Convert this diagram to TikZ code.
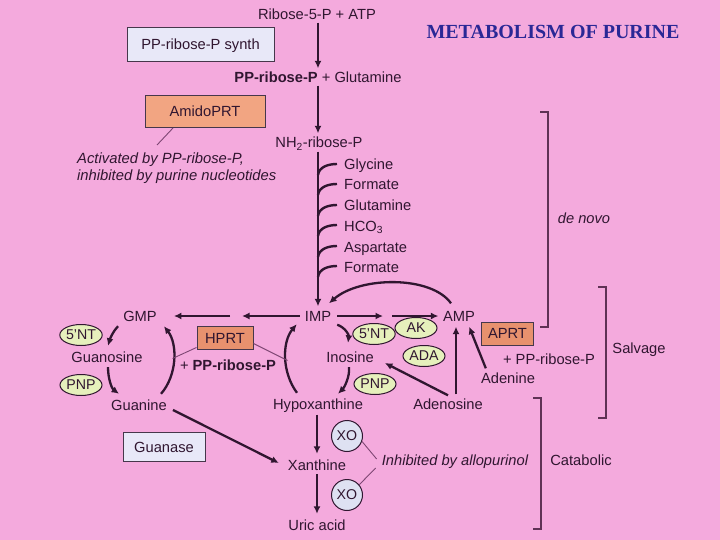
\documentclass[tikz,border=0pt]{standalone}
\usepackage{fontspec}
\setmainfont{Liberation Sans}
\newfontfamily\titlefont{Liberation Serif}
\usetikzlibrary{arrows.meta,shapes.geometric,calc}
\definecolor{bgpink}{RGB}{244,170,221}
\definecolor{ink}{RGB}{48,22,48}
\definecolor{titleblue}{RGB}{42,40,150}
\definecolor{boxfill}{RGB}{232,232,248}
\definecolor{boxline}{RGB}{70,55,75}
\definecolor{amidofill}{RGB}{242,165,130}
\definecolor{hfill}{RGB}{232,145,110}
\definecolor{ellfill}{RGB}{230,240,188}
\definecolor{xofill}{RGB}{222,225,242}
\definecolor{linkline}{RGB}{125,70,115}
\definecolor{brk}{RGB}{95,50,85}
\newcommand\denovobranch[1]{%
  \draw[branchline] ($(#1.west -| imp)+(0,10)$) .. controls +(1,-8) and +(-9,0) .. ($(#1.west)+(-6,-1)$);}
\begin{document}
\begin{tikzpicture}[x=1pt,y=-1pt,
  lbl/.style={inner sep=1pt, text height=10.5pt, text depth=0.5pt, text=ink, font=\fontsize{14.7}{17}\selectfont},
  itl/.style={lbl, font=\fontsize{14.7}{17}\selectfont\itshape},
  note/.style={inner sep=1pt, text=ink, align=left, font=\fontsize{14.8}{16.5}\selectfont\itshape},
  lbox/.style={lbl, draw=boxline, line width=1pt, inner sep=0pt},
  enz/.style={ellipse, draw=ink, line width=1pt, fill=ellfill, minimum width=42pt, minimum height=21pt, inner sep=0pt, text height=10pt, text depth=0.5pt, text=ink, font=\fontsize{14.2}{16}\selectfont},
  xocirc/.style={circle, draw=ink, line width=1pt, fill=xofill, minimum size=31pt, inner sep=0pt, text height=10pt, text depth=0.5pt, text=ink, font=\fontsize{14.2}{16}\selectfont},
  arr/.style={line width=2.3pt, draw=ink, -{Latex[length=7.5pt,width=7pt]}},
  branchline/.style={line width=2.4pt, draw=ink},
  thinline/.style={line width=0.9pt, draw=linkline},
  brack/.style={line width=1.2pt, draw=brk}]
\fill[bgpink] (0,0) rectangle (720,540);
\useasboundingbox (0,0) rectangle (720,540);

% title
\node[text=titleblue, font=\titlefont\bfseries\fontsize{20}{23}\selectfont, inner sep=0pt] (title) at (553,32) {METABOLISM OF PURINE};

% top of pathway
\node[lbl] (r5p) at (317,15) {Ribose-5-P + ATP};
\node[lbox, fill=boxfill, minimum width=147pt, minimum height=34pt] (synth) at (200.5,45) {PP-ribose-P synth};
\node[lbl] (prpp) at (318,78) {\textbf{PP-ribose-P} + Glutamine};
\node[lbox, fill=amidofill, minimum width=120pt, minimum height=32pt] (amido) at (205,111.5) {AmidoPRT};
\node[lbl] (nh2) at (319,143) {NH\textsubscript{2}-ribose-P};
\node[note, anchor=west] (activ) at (76,168) {Activated by PP-ribose-P,\\inhibited by purine nucleotides};

% de novo additions
\node[lbl, anchor=west] (gly) at (343,165) {Glycine};
\node[lbl, anchor=west] (for1) at (343,185) {Formate};
\node[lbl, anchor=west] (glu) at (343,206) {Glutamine};
\node[lbl, anchor=west] (hco) at (343,226) {HCO\textsubscript{3}};
\node[lbl, anchor=west] (asp) at (343,247) {Aspartate};
\node[lbl, anchor=west] (for2) at (343,267) {Formate};

% nucleotides / bases
\node[lbl] (imp) at (318,316) {IMP};
\node[lbl] (gmp) at (140,316) {GMP};
\node[lbl] (amp) at (459,316) {AMP};
\node[lbl] (inosine) at (350,357) {Inosine};
\node[lbl] (hypox) at (318,404) {Hypoxanthine};
\node[lbl] (adenosine) at (448,404) {Adenosine};
\node[lbl] (adenine) at (508,378) {Adenine};
\node[lbl] (guanosine) at (107,357) {Guanosine};
\node[lbl] (guanine) at (139,405) {Guanine};
\node[lbl] (xanthine) at (317,465) {Xanthine};
\node[lbl] (uric) at (317,525) {Uric acid};

% enzymes
\node[enz] (nt5a) at (81,335) {5'NT};
\node[enz] (pnpa) at (81,385) {PNP};
\node[enz] (nt5b) at (374,334) {5'NT};
\node[enz] (ak) at (416,328) {AK};
\node[enz] (ada) at (424,356) {ADA};
\node[enz] (pnpb) at (375,384) {PNP};
\node[lbox, fill=hfill, minimum width=56pt, minimum height=23pt] (hprt) at (225,338) {HPRT};
\node[lbox, fill=hfill, minimum width=52pt, minimum height=23pt] (aprt) at (507.5,333.5) {APRT};
\node[lbl] (pphp) at (228,365) {+ \textbf{PP-ribose-P}};
\node[lbl] (ppa) at (549,359) {+ PP-ribose-P};
\node[lbox, fill=boxfill, minimum width=82pt, minimum height=29pt] (guanase) at (164,447) {Guanase};
\node[xocirc] (xo1) at (347,436) {XO};
\node[xocirc] (xo2) at (347,495) {XO};
\node[itl] (inhib) at (455,460) {Inhibited by allopurinol};

% section labels
\node[itl] (denovo) at (584,218) {de novo};
\node[lbl] (salvage) at (639,348) {Salvage};
\node[lbl] (catab) at (581,460) {Catabolic};

% brackets
\draw[brack] (540,112) -- (548,112) -- (548,327) -- (540,327);
\draw[brack] (598,287) -- (606,287) -- (606,418) -- (598,418);
\draw[brack] (533,398) -- (541,398) -- (541,529) -- (533,529);

% top arrows
\draw[arr, shorten <=1pt, shorten >=3pt] (r5p.south -| prpp) -- (prpp.north);
\draw[arr, shorten <=1pt, shorten >=3pt] (prpp.south) -- (prpp.south |- nh2.north);
\draw[thinline] ($(amido.south)+(-32,0)$) -- +(-16,17);

% de novo chain
\draw[arr, line width=2.5pt, shorten <=2pt, shorten >=3pt] (nh2.south -| imp) -- (imp.north);
\denovobranch{gly}
\denovobranch{for1}
\denovobranch{glu}
\denovobranch{hco}
\denovobranch{asp}
\denovobranch{for2}

% IMP -> GMP
\coordinate (gbreakR) at (242,316);
\coordinate (gbreakL) at (230,316);
\draw[arr, shorten <=4pt] (imp.west) -- (gbreakR);
\draw[arr, shorten >=16pt] (gbreakL) -- (gmp.east);
% IMP -> AMP
\coordinate (abreakL) at (383,316);
\coordinate (abreakR) at (392,316);
\draw[arr, shorten <=5pt] (imp.east) -- (abreakL);
\draw[arr, shorten >=3.5pt] (abreakR) -- (amp.west);
% AMP -> IMP
\draw[arr] ($(amp.north)+(-8,-6)$) .. controls +(-20,-28) and +(31,-27) .. ($(imp.north)+(11,-6)$);

% IMP / Inosine / Hypoxanthine cycle
\draw[arr] ($(imp.south east)+(5,2)$) .. controls +(8,3) and +(1,-8) .. ($(inosine.north)+(-2,-7.5)$);
\draw[arr] ($(inosine.south)+(-1,3.5)$) .. controls +(1,10) and +(6,-6) .. ($(hypox.north)+(20,-3.5)$);
\draw[arr] ($(hypox.north)+(-21,-4.5)$) .. controls +(-15,-20) and +(-15,18) .. ($(imp.south west)+(-7,1.5)$);

% adenosine / adenine
\draw[arr] ($(adenosine.north)+(8,-3)$) -- ($(amp.south)+(-3,4)$);
\draw[arr] ($(adenosine.north)+(0,-2)$) -- ($(inosine.east)+(10,6)$);
\draw[arr] ($(adenine.north west)+(6,-3)$) -- ($(amp.south east)+(-7,4)$);

% GMP cycle
\draw[arr] ($(gmp.south west)+(-4,3.5)$) .. controls +(-5,5) and +(2,-7) .. ($(guanosine.north)+(1,-4.5)$);
\draw[arr] ($(guanosine.south)+(1,3.5)$) .. controls +(0,12) and +(-7,-5) .. ($(guanine.north west)+(9,-4.5)$);
\draw[arr] ($(guanine.north east)+(-7,-4.5)$) .. controls +(16,-18) and +(14,18) .. ($(gmp.south east)+(6,3.5)$);

% HPRT links
\draw[thinline] ($(hprt.south west)+(0,-2.5)$) -- +(-24,11);
\draw[thinline] ($(hprt.south east)+(0,-6.5)$) -- +(34,17);

% catabolism
\draw[arr] ($(guanine.east)+(5,5)$) -- ($(xanthine.west)+(-8,-2)$);
\draw[arr, shorten <=4pt, shorten >=4.5pt] (hypox.south -| xanthine) -- (xanthine.north);
\draw[arr, shorten <=2.5pt, shorten >=4.5pt] (xanthine.south) -- (uric.north);
\draw[thinline] (xo1.-20) -- ($(inhib.west)+(-4,-1)$);
\draw[thinline] (xo2.40) -- ($(inhib.west)+(-5,8)$);
\end{tikzpicture}
\end{document}
